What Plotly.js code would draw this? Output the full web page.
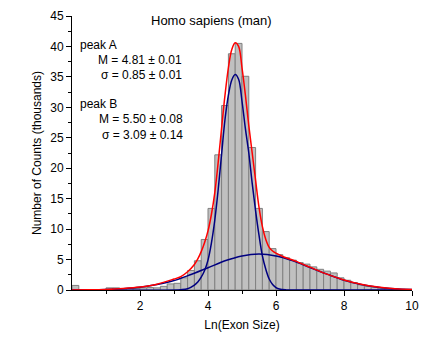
<!DOCTYPE html>
<html>
<head>
<meta charset="utf-8">
<script src="https://cdn.plot.ly/plotly-3.0.1.min.js"></script>
<style>html,body{margin:0;padding:0;background:#fff;}#chart{width:426px;height:341px;}</style>
</head>
<body>
<div id="chart"></div>
<script>
// Histogram bins (centers, width 0.2) and counts in thousands
const binCenters = [0.1,0.3,0.5,0.7,0.9,1.1,1.3,1.5,1.7,1.9,2.1,2.3,2.5,2.7,2.9,3.1,3.3,3.5,3.7,3.9,
  4.1,4.3,4.5,4.7,4.9,5.1,5.3,5.5,5.7,5.9,6.1,6.3,6.5,6.7,6.9,7.1,7.3,7.5,7.7,7.9,
  8.1,8.3,8.5,8.7,8.9,9.1,9.3,9.5,9.7,9.9];
const counts = [0.75,0,0,0,0.05,0.35,0.35,0.2,0.25,0.25,0.35,0.4,0.35,0.6,1.0,1.1,2.0,3.2,4.8,8.3,
  13.4,22.2,30.3,38.8,40.5,35.1,23.4,13.4,9.6,6.8,5.8,5.3,4.9,4.5,4.25,3.8,3.4,3.1,2.8,2.0,
  1.6,1.2,0.85,0.6,0.45,0.3,0.25,0.15,0.1,0.05];

// Peak A fit curve (navy)
const peakAx = [0,3.2,3.4,3.6,3.7,3.8,3.9,4.0,4.1,4.2,4.3,4.4,4.5,4.6,4.7,4.8,4.9,5.0,5.1,5.2,5.3,5.4,5.5,5.6,5.7,5.8,5.9,6.0,6.1,6.3,6.6,10];
const peakAy = [0,0.05,0.2,0.8,1.3,2.1,3.2,4.9,7.7,11.5,16.5,22.3,28.0,32.0,34.5,35.4,34.6,31.0,26.5,22.5,17.5,13.0,9.0,5.6,3.4,1.8,0.9,0.4,0.15,0.02,0,0];

// Peak B fit curve (navy)
const peakBx = [0,0.5,1,1.5,2,2.5,3,3.5,4,4.5,5,5.5,6,6.5,7,7.5,8,8.5,9,9.5,10];
const peakBy = [0.01,0.03,0.08,0.21,0.45,0.9,1.55,2.55,3.65,4.8,5.6,5.9,5.6,4.8,3.68,2.6,1.6,0.92,0.46,0.21,0.08];

// Cumulative fit (red)
const sumX = [0,0.5,1,1.5,2,2.5,3,3.2,3.4,3.6,3.7,3.8,3.9,4.0,4.1,4.2,4.3,4.4,4.5,4.6,4.7,4.8,4.9,5.0,5.1,5.2,5.3,5.4,5.5,5.6,5.7,5.8,5.9,6.0,6.2,6.4,6.6,6.8,7.0,7.5,8.0,8.5,9.0,9.5,10];
const sumY = [0.01,0.03,0.09,0.23,0.48,0.95,1.8,2.2,3.0,4.2,5.1,6.3,7.8,9.7,12.4,16.0,21.0,26.6,32.0,36.5,39.5,40.6,40.0,36.5,32.0,27.0,22.5,18.0,13.6,10.4,8.3,7.0,6.4,6.05,5.5,5.1,4.7,4.2,3.75,2.6,1.65,0.95,0.5,0.22,0.1];

const FONT = 'Liberation Sans, Arial, sans-serif';

const traces = [
  {type:'bar', x:binCenters, y:counts, width:0.2,
   marker:{color:'#c0c0c0', line:{color:'#808080', width:1}}, hoverinfo:'skip'},
  {type:'scatter', mode:'lines', x:peakBx, y:peakBy, line:{color:'#000080', width:1.5, shape:'spline'}},
  {type:'scatter', mode:'lines', x:peakAx, y:peakAy, line:{color:'#000080', width:1.5, shape:'spline'}},
  {type:'scatter', mode:'lines', x:sumX, y:sumY, line:{color:'#ff0000', width:1.5, shape:'spline'}}
];

function ann(text, x, y, xanchor, size) {
  return {text:text, x:x, y:y, xref:'x', yref:'y', xanchor:xanchor, yanchor:'middle',
          showarrow:false, font:{family:FONT, size:size || 12, color:'#000'}};
}

const layout = {
  width:426, height:341,
  margin:{l:72, r:14, t:16, b:51, pad:0},
  paper_bgcolor:'#fff', plot_bgcolor:'#fff',
  showlegend:false, bargap:0,
  font:{family:FONT, size:12, color:'#000'},
  xaxis:{range:[0,10], tickvals:[2,4,6,8,10], ticks:'outside', ticklen:5, tickwidth:1, tickcolor:'#000',
         showline:true, linecolor:'#000', linewidth:1, showgrid:false, zeroline:false,
         minor:{tickvals:[1,3,5,7,9], ticks:'outside', ticklen:3, tickcolor:'#000'},
         tickfont:{family:FONT, size:12},
         title:{text:'Ln(Exon Size)', font:{family:FONT, size:12}, standoff:8}},
  yaxis:{range:[0,45], dtick:5, ticks:'outside', ticklen:5, tickwidth:1, tickcolor:'#000',
         showline:true, linecolor:'#000', linewidth:1, showgrid:false, zeroline:false,
         minor:{dtick:2.5, ticks:'outside', ticklen:3, tickcolor:'#000'},
         tickfont:{family:FONT, size:12},
         title:{text:'Number of Counts (thousands)', font:{family:FONT, size:12}, standoff:6}},
  annotations:[
    ann('Homo sapiens (man)', 4.1, 44.2, 'center', 13),
    ann('peak A', 0.17, 40.2, 'left'),
    ann('M = 4.81 ± 0.01', 3.3, 37.8, 'right'),
    ann('σ = 0.85 ± 0.01', 3.3, 35.3, 'right'),
    ann('peak B', 0.17, 30.5, 'left'),
    ann('M = 5.50 ± 0.08', 3.32, 28.1, 'right'),
    ann('σ = 3.09 ± 0.14', 3.32, 25.5, 'right')
  ]
};

Plotly.newPlot('chart', traces, layout, {staticPlot:true, displayModeBar:false});
</script>
</body>
</html>
